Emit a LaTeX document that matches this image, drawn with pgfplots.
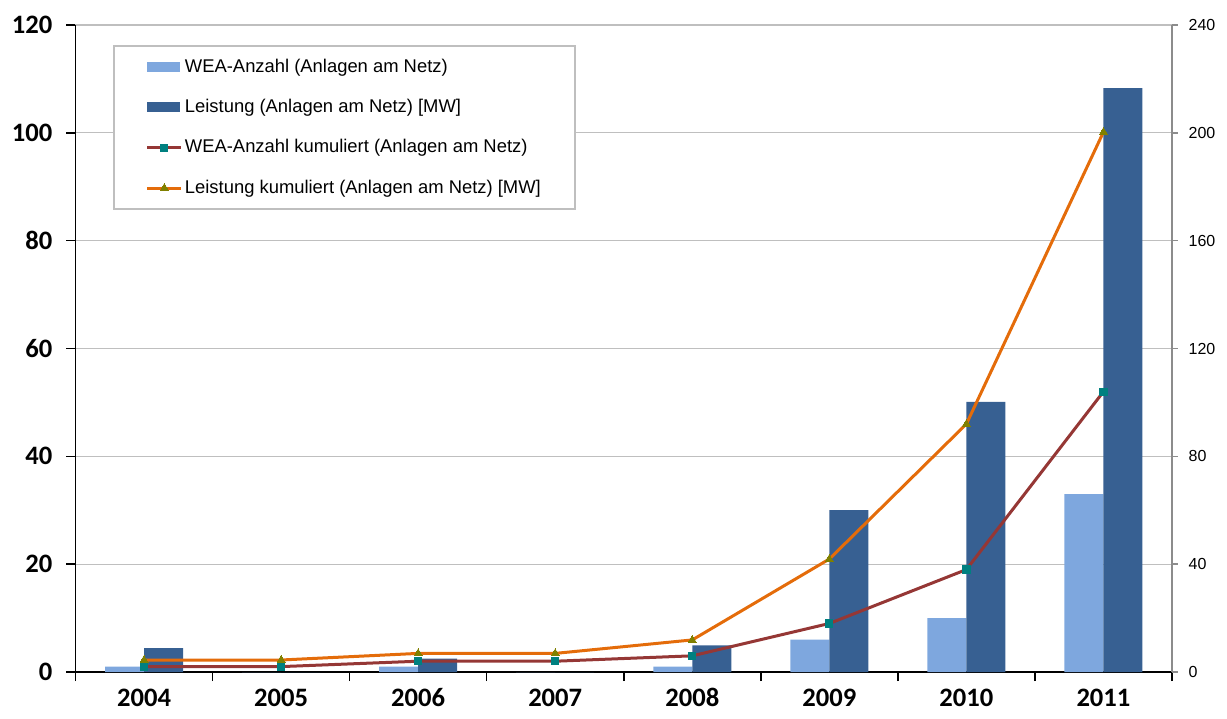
\documentclass[border=0pt]{standalone}
\usepackage{pgfplots}
\pgfplotsset{compat=1.18}
\usepackage{fontspec}
\setmainfont{Liberation Sans}
\newfontfamily\carlito{Carlito}

\definecolor{wealight}{HTML}{7EA7DE}
\definecolor{weadark}{HTML}{376092}
\definecolor{kumred}{HTML}{953735}
\definecolor{kumorange}{HTML}{E46C0A}
\definecolor{mteal}{HTML}{008080}
\definecolor{molive}{HTML}{808000}
\definecolor{gridgray}{HTML}{BFBFBF}
\definecolor{axisgray}{HTML}{8C8C8C}

% x: 0=2004 ... 7=2011
\pgfplotstableread{
x anz leist anzkum leistkum
0 1  4.45  1  4.45
1 0  0     1  4.45
2 1  2.47  2  6.9
3 0  0     2  6.9
4 1  4.95  3  11.9
5 6  30    9  41.9
6 10 50.1  19 92
7 33 108.3 52 200.3
}\datatab

\begin{document}
\begin{tikzpicture}
\useasboundingbox (-37.75pt,-23pt) rectangle (575.75pt,336pt);
\begin{axis}[
  at={(0pt,0pt)}, anchor=south west,
  scale only axis, width=548.25pt, height=323.5pt,
  xmin=-0.5, xmax=7.5, ymin=0, ymax=120,
  axis x line*=bottom, axis y line*=left,
  axis line style={black, line width=0.9pt},
  xtick={-0.5,0.5,...,7.5}, x tick label as interval,
  xticklabels={2004,2005,2006,2007,2008,2009,2010,2011},
  ytick={0,20,...,120},
  tick align=outside, major tick length=4.5pt,
  tick style={black, line width=0.8pt},
  ymajorgrids, grid style={gridgray, line width=0.6pt},
  ticklabel style={font=\carlito\bfseries\fontsize{13.3}{15}\selectfont},
  xticklabel style={text height=9pt, text depth=0pt},
  yticklabel style={xshift=-3.5pt},
  /pgf/number format/assume math mode=true,
  legend cell align=left,
  legend style={at={(0.0342,0.969)}, anchor=north west,
    draw=gridgray, line width=0.8pt, fill=white,
    font=\fontsize{9.2}{11}\selectfont,
    row sep=10pt, inner xsep=16pt, inner ysep=5.5pt,
    nodes={inner sep=1pt}},
]
\addplot[ybar, bar width=19.5pt, bar shift=-9.75pt, fill=wealight, draw=none,
  legend image code/.code={\fill[wealight] (0pt,-2.5pt) rectangle (16.5pt,2.5pt);}]
  table[x=x,y=anz]{\datatab};
\addlegendentry{WEA-Anzahl (Anlagen am Netz)}
\addplot[ybar, bar width=19.5pt, bar shift=9.75pt, fill=weadark, draw=none,
  legend image code/.code={\fill[weadark] (0pt,-2.5pt) rectangle (16.5pt,2.5pt);}]
  table[x=x,y=leist]{\datatab};
\addlegendentry{Leistung (Anlagen am Netz) [MW]}
\addplot[kumred, line width=1.5pt, mark=square*, mark size=1.8pt,
  mark options={fill=mteal, draw=mteal, line width=0pt}]
  table[x=x,y=anzkum]{\datatab};
\addlegendentry{WEA-Anzahl kumuliert (Anlagen am Netz)}
\addlegendimage{kumorange, line width=1.5pt, mark=triangle*, mark size=2.3pt,
  mark options={fill=molive, draw=molive, line width=0pt}}
\addlegendentry{Leistung kumuliert (Anlagen am Netz) [MW]}
\end{axis}
\begin{axis}[
  at={(0pt,0pt)}, anchor=south west,
  scale only axis, width=548.25pt, height=323.5pt,
  xmin=-0.5, xmax=7.5, ymin=0, ymax=240,
  axis y line*=right, axis x line=none,
  axis line style={axisgray, line width=1pt},
  ytick={0,40,...,240},
  tick align=outside, major tick length=3pt,
  tick style={axisgray, line width=0.8pt},
  yticklabel style={font=\fontsize{8}{10}\selectfont, xshift=1.8pt},
  /pgf/number format/assume math mode=true,
]
\addplot[kumorange, line width=1.5pt, mark=triangle*, mark size=2.3pt,
  mark options={fill=molive, draw=molive, line width=0pt}]
  table[x=x,y=leistkum]{\datatab};
\end{axis}
\end{tikzpicture}
\end{document}
